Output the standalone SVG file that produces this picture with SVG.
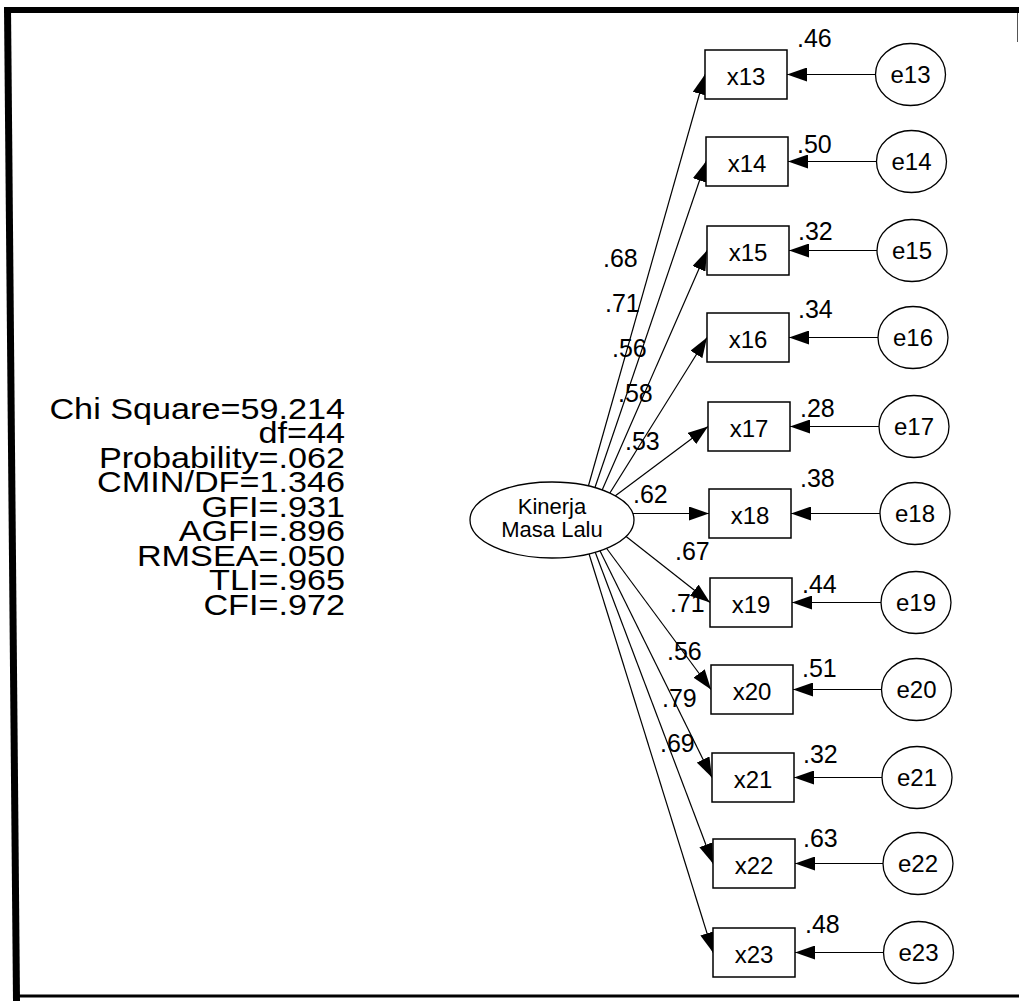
<svg xmlns="http://www.w3.org/2000/svg" width="1019" height="1001" viewBox="0 0 1019 1001">
<style>
.t{font-family:"Liberation Sans",Arial,sans-serif;fill:#000}
.n{font-size:24px}
.v{font-size:25px}
.s{font-size:30px;text-anchor:end}
.box{fill:#fff;stroke:#000;stroke-width:1.5}
.el{fill:#fff;stroke:#000;stroke-width:1.3}
.c line{stroke:#000;stroke-width:1.2;marker-end:url(#ah)}
</style>
<defs>
<marker id="ah" markerUnits="userSpaceOnUse" markerWidth="20" markerHeight="14" refX="20" refY="7" orient="auto">
<path d="M0,0 L20,7 L0,14 z" fill="#000"/>
</marker>
</defs>
<rect width="1019" height="1001" fill="#fff"/>
<g id="border">
<path d="M4,7 L1019,7 L1019,13 L4,13 z" fill="#000"/>
<path d="M4,7 L11,7 L20,1001 L13,1001 z" fill="#000"/>
<line x1="14" y1="996" x2="1019" y2="996" stroke="#000" stroke-width="3"/>
<line x1="1017.5" y1="13" x2="1017.5" y2="42" stroke="#555" stroke-width="1"/>
</g>
<g id="stats" class="t s" transform="translate(345,0) scale(1.14,1)">
<text x="0" y="419">Chi Square=59.214</text>
<text x="0" y="443.5">df=44</text>
<text x="0" y="468">Probability=.062</text>
<text x="0" y="492.5">CMIN/DF=1.346</text>
<text x="0" y="517">GFI=.931</text>
<text x="0" y="541.5">AGFI=.896</text>
<text x="0" y="566">RMSEA=.050</text>
<text x="0" y="590.5">TLI=.965</text>
<text x="0" y="615">CFI=.972</text>
</g>
<g id="connectors" class="c">
<line x1="583" y1="505" x2="705" y2="74.5"/>
<line x1="589" y1="505" x2="706" y2="161.5"/>
<line x1="595.6" y1="505" x2="707" y2="250.5"/>
<line x1="602.4" y1="505" x2="707" y2="337.5"/>
<line x1="603" y1="505" x2="708" y2="426.5"/>
<line x1="615" y1="513.5" x2="709" y2="513.5"/>
<line x1="611.5" y1="525" x2="710" y2="602.5"/>
<line x1="593" y1="530" x2="711" y2="689.5"/>
<line x1="589.7" y1="530" x2="712" y2="777.5"/>
<line x1="586.8" y1="530" x2="713" y2="863.5"/>
<line x1="581.6" y1="530" x2="713" y2="952.5"/>
<line x1="875.5" y1="74.5" x2="787" y2="74.5"/>
<line x1="876.5" y1="161.5" x2="788" y2="161.5"/>
<line x1="877" y1="250.5" x2="789" y2="250.5"/>
<line x1="878" y1="337.5" x2="789" y2="337.5"/>
<line x1="879" y1="426.5" x2="790" y2="426.5"/>
<line x1="880" y1="513.5" x2="791" y2="513.5"/>
<line x1="881" y1="602.5" x2="792" y2="602.5"/>
<line x1="881.5" y1="689.5" x2="793" y2="689.5"/>
<line x1="882" y1="777.5" x2="794" y2="777.5"/>
<line x1="883" y1="863.5" x2="795" y2="863.5"/>
<line x1="883.5" y1="952.5" x2="795" y2="952.5"/>
</g>
<g id="kinerja">
<ellipse class="el" cx="552" cy="520" rx="82" ry="38"/>
<text class="t" x="552" y="514" font-size="22" text-anchor="middle">Kinerja</text>
<text class="t" x="552" y="537" font-size="22" text-anchor="middle">Masa Lalu</text>
</g>
<g id="x13"><rect class="box" x="705" y="50" width="82" height="49"/><text class="t n" x="746" y="85" text-anchor="middle">x13</text></g>
<g id="x14"><rect class="box" x="706" y="137" width="82" height="49"/><text class="t n" x="747" y="172" text-anchor="middle">x14</text></g>
<g id="x15"><rect class="box" x="707" y="226" width="82" height="49"/><text class="t n" x="748" y="261" text-anchor="middle">x15</text></g>
<g id="x16"><rect class="box" x="707" y="313" width="82" height="49"/><text class="t n" x="748" y="348" text-anchor="middle">x16</text></g>
<g id="x17"><rect class="box" x="708" y="402" width="82" height="49"/><text class="t n" x="749" y="437" text-anchor="middle">x17</text></g>
<g id="x18"><rect class="box" x="709" y="489" width="82" height="49"/><text class="t n" x="750" y="524" text-anchor="middle">x18</text></g>
<g id="x19"><rect class="box" x="710" y="578" width="82" height="49"/><text class="t n" x="751" y="613" text-anchor="middle">x19</text></g>
<g id="x20"><rect class="box" x="711" y="665" width="82" height="49"/><text class="t n" x="752" y="700" text-anchor="middle">x20</text></g>
<g id="x21"><rect class="box" x="712" y="753" width="82" height="49"/><text class="t n" x="753" y="788" text-anchor="middle">x21</text></g>
<g id="x22"><rect class="box" x="713" y="839" width="82" height="49"/><text class="t n" x="754" y="874" text-anchor="middle">x22</text></g>
<g id="x23"><rect class="box" x="713" y="928" width="82" height="49"/><text class="t n" x="754" y="963" text-anchor="middle">x23</text></g>
<g id="e13"><ellipse class="el" cx="910.5" cy="74.5" rx="35" ry="31"/><text class="t n" x="910.5" y="83" text-anchor="middle">e13</text></g>
<g id="e14"><ellipse class="el" cx="911.5" cy="161.5" rx="35" ry="31"/><text class="t n" x="911.5" y="170" text-anchor="middle">e14</text></g>
<g id="e15"><ellipse class="el" cx="912" cy="250.5" rx="35" ry="31"/><text class="t n" x="912" y="259" text-anchor="middle">e15</text></g>
<g id="e16"><ellipse class="el" cx="913" cy="337.5" rx="35" ry="31"/><text class="t n" x="913" y="346" text-anchor="middle">e16</text></g>
<g id="e17"><ellipse class="el" cx="914" cy="426.5" rx="35" ry="31"/><text class="t n" x="914" y="435" text-anchor="middle">e17</text></g>
<g id="e18"><ellipse class="el" cx="915" cy="513.5" rx="35" ry="31"/><text class="t n" x="915" y="522" text-anchor="middle">e18</text></g>
<g id="e19"><ellipse class="el" cx="916" cy="602.5" rx="35" ry="31"/><text class="t n" x="916" y="611" text-anchor="middle">e19</text></g>
<g id="e20"><ellipse class="el" cx="916.5" cy="689.5" rx="35" ry="31"/><text class="t n" x="916.5" y="698" text-anchor="middle">e20</text></g>
<g id="e21"><ellipse class="el" cx="917" cy="777.5" rx="35" ry="31"/><text class="t n" x="917" y="786" text-anchor="middle">e21</text></g>
<g id="e22"><ellipse class="el" cx="918" cy="863.5" rx="35" ry="31"/><text class="t n" x="918" y="872" text-anchor="middle">e22</text></g>
<g id="e23"><ellipse class="el" cx="918.5" cy="952.5" rx="35" ry="31"/><text class="t n" x="918.5" y="961" text-anchor="middle">e23</text></g>
<g id="loadings" class="t v">
<text x="603" y="267">.68</text>
<text x="605" y="312">.71</text>
<text x="612" y="357">.56</text>
<text x="618" y="402">.58</text>
<text x="625" y="450">.53</text>
<text x="633" y="503">.62</text>
<text x="675" y="560">.67</text>
<text x="670" y="612">.71</text>
<text x="667" y="660">.56</text>
<text x="662" y="707">.79</text>
<text x="660" y="752">.69</text>
</g>
<g id="r2" class="t v">
<text x="797" y="47">.46</text>
<text x="797" y="153">.50</text>
<text x="798" y="240">.32</text>
<text x="798" y="318">.34</text>
<text x="800" y="417">.28</text>
<text x="800" y="487">.38</text>
<text x="802" y="593">.44</text>
<text x="802" y="677">.51</text>
<text x="803" y="763">.32</text>
<text x="803" y="847">.63</text>
<text x="805" y="933">.48</text>
</g>
</svg>
